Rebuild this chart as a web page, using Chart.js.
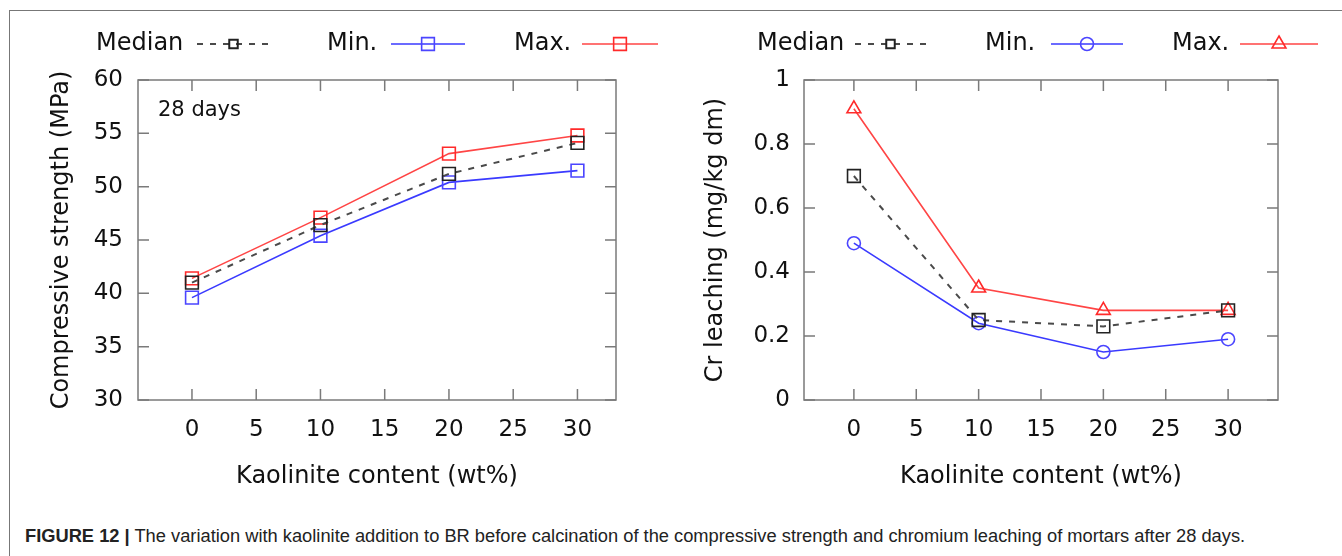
<!DOCTYPE html>
<html><head><meta charset="utf-8">
<script src="https://cdn.jsdelivr.net/npm/chart.js@4/dist/chart.umd.min.js"></script>
<style>
html,body{margin:0;padding:0;background:#fff;}
body{width:1342px;height:556px;position:relative;overflow:hidden;}
#frame{position:absolute;left:9px;top:10px;width:1400px;height:600px;border-left:1.5px solid #777;border-top:1.5px solid #777;}
canvas{position:absolute;top:0;}
#c1{left:0;width:671px;height:500px;}
#c2{left:671px;width:671px;height:500px;}
#caption{position:absolute;left:25px;top:525px;font-family:'Liberation Sans',Arial,sans-serif;font-size:18.3px;color:#222;white-space:nowrap;}
</style></head>
<body>
<div id="frame"></div>
<canvas id="c1" width="671" height="500"></canvas>
<canvas id="c2" width="671" height="500"></canvas>
<div id="caption"><b>FIGURE 12</b> <b>|</b> The variation with kaolinite addition to BR before calcination of the compressive strength and chromium leaching of mortars after 28 days.</div>
<script>
// ---- data ----
const kaolinite = [0, 10, 20, 30];
const strengthMedian = [41.0, 46.4, 51.2, 54.1];
const strengthMin = [39.6, 45.4, 50.4, 51.5];
const strengthMax = [41.4, 47.1, 53.1, 54.8];
const crMedian = [0.70, 0.25, 0.23, 0.28];
const crMin = [0.49, 0.24, 0.15, 0.19];
const crMax = [0.91, 0.35, 0.28, 0.28];
const xTicks = [0, 5, 10, 15, 20, 25, 30];
const strengthTicks = [30, 35, 40, 45, 50, 55, 60];
const crTicks = [0, 0.2, 0.4, 0.6, 0.8, 1];
const seriesNames = ['Median', 'Min.', 'Max.'];

const FONT = "'DejaVu Sans', Verdana, sans-serif";
const TXT = '#111';
const AXIS = '#7a7a7a';
const MED_LINE = '#4a4a4a', MED_PT = '#222';
const MIN_LINE = '#3a3aff', MIN_PT = '#4b45ff';
const MAX_LINE = '#ff4545', MAX_PT = '#ff2a2a';

function pts(arr) { return kaolinite.map((x, i) => ({x: x, y: arr[i]})); }

function makeDatasets(med, mn, mx, minStyle, maxStyle, minR, maxR) {
  return [
    {label: seriesNames[0], data: pts(med), borderColor: MED_LINE, borderWidth: 2, borderDash: [6, 7],
     pointStyle: 'rect', pointRadius: 9, pointBorderColor: MED_PT, pointBorderWidth: 1.6,
     pointBackgroundColor: 'rgba(0,0,0,0)', fill: false, tension: 0},
    {label: seriesNames[1], data: pts(mn), borderColor: MIN_LINE, borderWidth: 1.6,
     pointStyle: minStyle, pointRadius: minR, pointBorderColor: MIN_PT, pointBorderWidth: 1.6,
     pointBackgroundColor: 'rgba(0,0,0,0)', fill: false, tension: 0},
    {label: seriesNames[2], data: pts(mx), borderColor: MAX_LINE, borderWidth: 1.6,
     pointStyle: maxStyle, pointRadius: maxR, pointBorderColor: MAX_PT, pointBorderWidth: 1.6,
     pointBackgroundColor: 'rgba(0,0,0,0)', fill: false, tension: 0}
  ];
}

const gnuplotFrame = {
  id: 'gnuplotFrame',
  beforeDatasetsDraw(chart, args, o) {
    const {ctx, chartArea: a, scales: {x, y}} = chart;
    const TL = 11;
    ctx.save();
    ctx.strokeStyle = AXIS; ctx.lineWidth = 1.5;
    ctx.strokeRect(a.left, a.top, a.right - a.left, a.bottom - a.top);
    ctx.beginPath();
    o.xTicks.forEach(v => {
      const px = x.getPixelForValue(v);
      ctx.moveTo(px, a.bottom); ctx.lineTo(px, a.bottom - TL);
      ctx.moveTo(px, a.top); ctx.lineTo(px, a.top + TL);
    });
    o.yTicks.forEach(v => {
      const py = y.getPixelForValue(v);
      ctx.moveTo(a.left, py); ctx.lineTo(a.left + TL, py);
      ctx.moveTo(a.right, py); ctx.lineTo(a.right - TL, py);
    });
    ctx.stroke();
    if (o.note) {
      ctx.fillStyle = TXT;
      ctx.font = '21px ' + FONT;
      ctx.textAlign = 'left'; ctx.textBaseline = 'middle';
      ctx.fillText(o.note.text, a.left + o.note.dx, a.top + o.note.dy);
    }
    ctx.restore();
  },
  afterDraw(chart, args, o) {
    const {ctx} = chart;
    ctx.save();
    ctx.font = '24px ' + FONT;
    ctx.textAlign = 'left'; ctx.textBaseline = 'middle';
    o.legend.forEach((it, i) => {
      const ds = chart.data.datasets[i];
      const yy = o.legendY;
      ctx.fillStyle = TXT;
      ctx.fillText(ds.label, it.tx, yy);
      ctx.strokeStyle = ds.borderColor; ctx.lineWidth = ds.borderWidth;
      ctx.setLineDash(ds.borderDash || []);
      ctx.beginPath(); ctx.moveTo(it.x1, yy); ctx.lineTo(it.x2, yy); ctx.stroke();
      ctx.setLineDash([]);
      ctx.strokeStyle = ds.pointBorderColor; ctx.fillStyle = 'rgba(0,0,0,0)';
      Chart.helpers.drawPoint(ctx, {pointStyle: ds.pointStyle, radius: it.r || ds.pointRadius, rotation: 0, borderWidth: ds.pointBorderWidth}, (it.x1 + it.x2) / 2, yy);
    });
    ctx.restore();
  }
};

function makeChart(id, datasets, xmin, xmax, ymin, ymax, yTicks, yTitle, yAxisW, rightPad, ytPad, ylPad, frameOpts) {
  return new Chart(document.getElementById(id), {
    type: 'line',
    data: {datasets: datasets},
    plugins: [gnuplotFrame],
    options: {
      responsive: false, animation: false, devicePixelRatio: 1,
      layout: {padding: {left: 0, right: rightPad, top: 80, bottom: 0}},
      plugins: {legend: {display: false}, tooltip: {enabled: false}, gnuplotFrame: frameOpts},
      scales: {
        x: {
          type: 'linear', min: xmin, max: xmax,
          afterBuildTicks: s => { s.ticks = xTicks.map(v => ({value: v})); },
          afterFit: s => { s.height = 100; },
          grid: {display: false, drawTicks: false}, border: {display: false},
          ticks: {font: {family: FONT, size: 23}, color: TXT, padding: 16, maxRotation: 0, autoSkip: false,
                  callback: v => String(v)},
          title: {display: true, text: 'Kaolinite content (wt%)', font: {family: FONT, size: 24}, color: TXT,
                  padding: {top: 0, bottom: 9}}
        },
        y: {
          type: 'linear', min: ymin, max: ymax,
          afterBuildTicks: s => { s.ticks = yTicks.map(v => ({value: v})); },
          afterFit: s => { s.width = yAxisW; },
          grid: {display: false, drawTicks: false}, border: {display: false},
          ticks: {font: {family: FONT, size: 23}, color: TXT, padding: ylPad, autoSkip: false,
                  callback: v => String(v)},
          title: {display: true, text: yTitle, font: {family: FONT, size: 24}, color: TXT,
                  padding: {top: ytPad, bottom: 0}}
        }
      }
    }
  });
}

makeChart('c1', makeDatasets(strengthMedian, strengthMin, strengthMax, 'rect', 'rect', 9, 9),
  -4.2, 33, 30, 60, strengthTicks, 'Compressive strength (MPa)', 138, 55, 47, 15,
  {xTicks: xTicks, yTicks: strengthTicks, legendY: 44,
   note: {text: '28 days', dx: 20, dy: 31},
   legend: [{tx: 96, x1: 197, x2: 270, r: 6}, {tx: 327, x1: 391, x2: 465}, {tx: 514, x1: 582, x2: 658}]});

makeChart('c2', makeDatasets(crMedian, crMin, crMax, 'circle', 'triangle', 6.5, 8),
  -4, 34, 0, 1, crTicks, 'Cr leaching (mg/kg dm)', 133, 64, 30, 14,
  {xTicks: xTicks, yTicks: crTicks, legendY: 44,
   legend: [{tx: 86, x1: 184, x2: 255, r: 6}, {tx: 314, x1: 380, x2: 452}, {tx: 501, x1: 569, x2: 647}]});
</script>
</body></html>
